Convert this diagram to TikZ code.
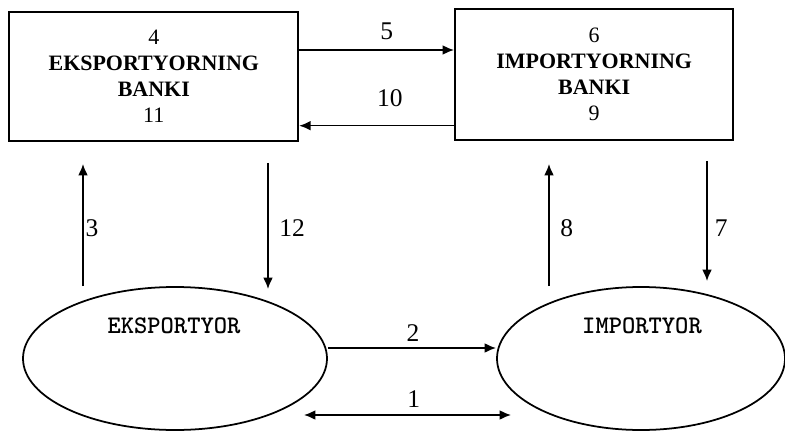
\documentclass[tikz,border=0pt]{standalone}
\usepackage{fontspec}
\setmainfont{Liberation Serif}
\usetikzlibrary{arrows.meta,shapes.geometric}

\tikzset{
	bank/.style={draw, line width=1pt, rectangle, align=center,
		font=\fontsize{12.5}{14.8}\selectfont},
	party/.style={draw, line width=1pt, ellipse, inner sep=0pt},
	partyname/.style={font=\ttfamily\bfseries\fontsize{14.4}{16}\selectfont},
	flow/.style={line width=0.9pt, -{Latex[length=6.5pt,width=5.5pt]}},
	twoway/.style={line width=0.9pt, {Latex[length=6.5pt,width=5.5pt]}-{Latex[length=6.5pt,width=5.5pt]}},
	num/.style={font=\fontsize{14.5}{16}\selectfont, inner sep=1pt},
}

\begin{document}
\begin{tikzpicture}
	\useasboundingbox (0,0) rectangle (15.7,8.62);
	% banks
	\node[bank, minimum width=5.78cm, minimum height=2.58cm] (expbank) at (3.076,7.096)
		{4\\ \textbf{EKSPORTYORNING}\\ \textbf{BANKI}\\ 11};
	\node[bank, minimum width=5.567cm, minimum height=2.614cm] (impbank) at (11.883,7.127)
		{6\\ \textbf{IMPORTYORNING}\\ \textbf{BANKI}\\ 9};
	% trading partners
	\node[party, minimum width=6.08cm, minimum height=2.86cm] (exporter) at (3.5,1.45) {};
	\node[party, minimum width=5.76cm, minimum height=2.86cm] (importer) at (12.82,1.45) {};
	\node[partyname] (expname) at (3.48,2.1) {EKSPORTYOR};
	\node[partyname] (impname) at (12.84,2.1) {IMPORTYOR};
	% between the banks
	\draw[flow] (expbank.east |- 0,7.62) -- (impbank.west |- 0,7.62)
		node[num, above=4.5pt, pos=0.566] {5};
	\draw[flow] (impbank.west |- 0,6.106) -- (expbank.east |- 0,6.106)
		node[num, above=9.5pt, pos=0.415] {10};
	% exporter side
	\draw[flow, shorten >=0.446cm] (exporter.north -| 1.66,0) -- (expbank.south -| 1.66,0)
		node[num, right=0pt, pos=0.403] {3};
	\draw[flow, shorten <=0.426cm, shorten >=-0.06cm] (expbank.south -| 5.36,0) -- (exporter.north -| 5.36,0)
		node[num, right=5pt, pos=0.597] {12};
	% importer side
	\draw[flow, shorten >=0.46cm] (importer.north -| 10.98,0) -- (impbank.south -| 10.98,0)
		node[num, right=5pt, pos=0.401] {8};
	\draw[flow, shorten <=0.40cm, shorten >=0.1cm] (impbank.south -| 14.14,0) -- (importer.north -| 14.14,0)
		node[num, right=3pt, pos=0.599] {7};
	% between exporter and importer
	\draw[flow] ([yshift=0.21cm]exporter.east) -- ([yshift=0.21cm]importer.west)
		node[num, above=2.5pt, pos=0.506] {2};
	\draw[twoway] ([shift={(-0.48,-1.13)}]exporter.east) -- ([shift={(0.3,-1.13)}]importer.west)
		node[num, above=3pt, pos=0.53] {1};
\end{tikzpicture}
\end{document}
